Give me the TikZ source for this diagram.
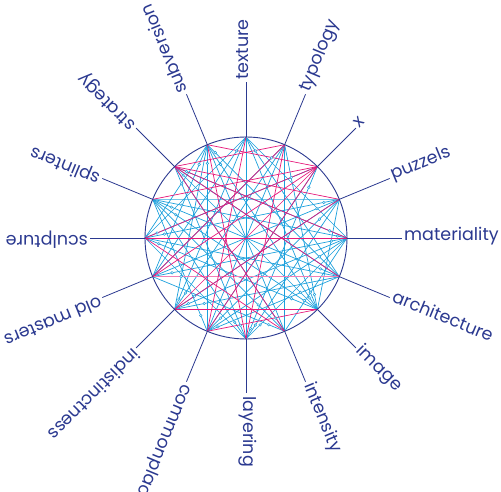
\documentclass[tikz,border=0pt]{standalone}
\usepackage{fontspec}
\setmainfont{Poppins}
\usetikzlibrary{calc}
\definecolor{navy}{HTML}{2B3990}
\definecolor{chordblue}{HTML}{1CA0DC}
\definecolor{chordpink}{HTML}{E6197B}
\begin{document}
\begin{tikzpicture}[x=1pt,y=1pt,
  spoke/.style={draw=navy, line width=0.8pt},
  rim/.style={draw=navy, line width=0.9pt},
  bluechord/.style={draw=chordblue, line width=0.7pt},
  paleblue/.style={draw=chordblue!60, line width=1.4pt},
  pinkchord/.style={draw=chordpink, line width=0.7pt},
  palechord/.style={draw=chordpink!55, line width=1.4pt},
  marker/.style={draw=chordblue, line width=0.5pt, fill=white},
  lab/.style={text=navy, font=\fontsize{17.5}{17.5}\selectfont, anchor=mid west, inner sep=0pt}]
\useasboundingbox (-246,-254) rectangle (255,238);
% sixteen points on the rim, and the outer ends of their spokes
\foreach \i in {0,...,15}{
  \coordinate (p\i) at (\i*22.5:101);
  \coordinate (e\i) at (\i*22.5:155.5);
}
% blue chords
\draw[paleblue] (p7) -- (p1);
\foreach \a/\b in {4/12,5/11,3/13,
  4/8,4/9,4/10,4/14,4/15,4/0,
  12/6,12/7,12/8,12/0,12/1,12/2,
  7/15,7/14,7/13,7/0,7/11,
  8/1,8/2,8/14,8/15,8/5,
  9/0,9/1,9/3,9/5,9/13,
  10/0,10/1,10/3,10/5,10/15,
  14/5,14/6,14/3,14/1,
  15/5,15/6,15/11,
  0/6,0/11,0/13,
  3/11,11/1,11/2,13/6,13/5}
  \draw[bluechord] (p\a) -- (p\b);
% magenta chords
\draw[palechord] (p9) -- (p15);
\foreach \a/\b in {8/0,10/14,5/2,6/1,6/3,2/10,2/11,2/8,2/9,6/0,6/13,5/12,
  4/11,10/1,11/14,8/13,9/3,6/15,7/2,12/3}
  \draw[pinkchord] (p\a) -- (p\b);
% small ring marks near the chord ends
\foreach \a/\b/\f in {12/6/0.08,12/7/0.12,12/1/0.1,12/2/0.06,12/0/0.14,
  14/4/0.1,14/5/0.07,14/6/0.12,14/7/0.08,14/8/0.15,14/3/0.09,
  10/0/0.08,10/1/0.12,10/3/0.1,10/5/0.2,10/15/0.18,10/4/0.06,
  11/1/0.1,11/15/0.08,11/7/0.12,
  13/6/0.08,13/9/0.12,13/7/0.2,
  9/0/0.1,9/1/0.15,
  8/1/0.1,8/2/0.07,8/14/0.08,
  7/15/0.1,7/14/0.14,7/0/0.15,
  6/12/0.1,6/14/0.06,6/0/0.07,
  5/11/0.1,5/14/0.12,5/9/0.15,5/15/0.06,
  4/9/0.1,4/15/0.1,
  3/9/0.1,3/14/0.2,
  2/12/0.12,
  1/8/0.08,1/9/0.12,1/11/0.15,
  0/6/0.1,0/9/0.08,0/7/0.05,
  15/7/0.1,15/5/0.15}
  \draw[marker] ($(p\a)!\f!(p\b)$) circle (1.3);
% rim
\draw[rim] (0,0) circle (101);
% spokes and their labels
\foreach \i/\t in {0/materiality,1/puzzels,2/x,3/typology,4/texture,
  5/subversion,6/strategy,7/splinters,8/sculpture,9/old masters,
  10/indistinctness,11/commonplace,12/layering,13/intensity,
  14/image,15/architecture}{
  \draw[spoke] (p\i) -- (e\i);
  \node[lab, rotate=\i*22.5] (l\i) at (\i*22.5:158) {\t};
}
\end{tikzpicture}
\end{document}
